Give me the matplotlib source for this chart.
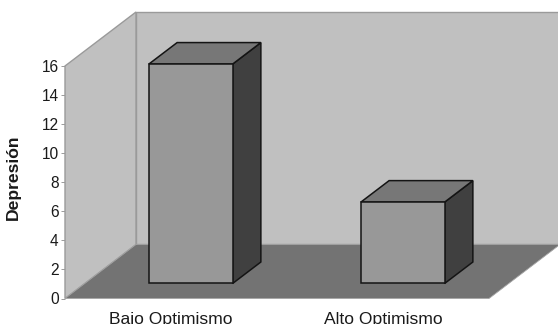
import matplotlib
matplotlib.use('Agg')
import matplotlib.pyplot as plt
from matplotlib.patches import Polygon

categories = ['Bajo Optimismo', 'Alto Optimismo']
values = [15.1, 5.6]
y_ticks = [0, 2, 4, 6, 8, 10, 12, 14, 16]
y_label = 'Depresión'

W, H = 558, 324
# depth vector of the box, in data units
DEPTH_X = 71 / 212
DEPTH_Y = 54 / 14.53
BAR_W = 0.395
BAR_D0, BAR_D1 = 0.278, 0.676

plt.rcParams['font.family'] = ['Liberation Sans', 'DejaVu Sans']

fig = plt.figure(figsize=(W / 100, H / 100), dpi=100)
ax = fig.add_axes([65 / W, 1 - 298.5 / H, 424 / W, 232.5 / H])
ax.set_xlim(0, 2)
ax.set_ylim(0, 16)
ax.patch.set_visible(False)
for s in ax.spines.values():
    s.set_visible(False)


def pt(x, y, d):
    return (x + d * DEPTH_X, y + d * DEPTH_Y)


def face(points, fc, ec, lw, z):
    ax.add_patch(Polygon(points, closed=True, facecolor=fc, edgecolor=ec, linewidth=lw,
                         joinstyle='miter', clip_on=False, zorder=z))


# walls and floor
face([pt(0, 0, 1), pt(2, 0, 1), pt(2, 16, 1), pt(0, 16, 1)], '#c0c0c0', '#9a9a9a', 1.0, 1)
face([pt(0, 0, 0), pt(0, 0, 1), pt(0, 16, 1), pt(0, 16, 0)], '#c0c0c0', '#9a9a9a', 1.0, 2)
face([pt(0, 0, 0), pt(2, 0, 0), pt(2, 0, 1), pt(0, 0, 1)], '#737373', '#a5a5a5', 0.6, 3)

# bars
for i, v in enumerate(values):
    x0 = i + 0.5 - BAR_W / 2
    x1 = i + 0.5 + BAR_W / 2
    face([pt(x1, 0, BAR_D0), pt(x1, 0, BAR_D1), pt(x1, v, BAR_D1), pt(x1, v, BAR_D0)],
         '#404040', '#141414', 1.1, 4)
    face([pt(x0, v, BAR_D0), pt(x1, v, BAR_D0), pt(x1, v, BAR_D1), pt(x0, v, BAR_D1)],
         '#777777', '#141414', 1.1, 4)
    face([pt(x0, 0, BAR_D0), pt(x1, 0, BAR_D0), pt(x1, v, BAR_D0), pt(x0, v, BAR_D0)],
         '#989898', '#141414', 1.1, 5)

ax.set_yticks(y_ticks)
ax.set_yticklabels([str(t) for t in y_ticks], fontsize=11.2, color='#1a1a1a')
ax.tick_params(axis='y', length=3, width=0.7, color='#9a9a9a', pad=1.5)
ax.set_xticks([0.5, 1.5])
ax.set_xticklabels(categories, fontsize=12.6, color='#1a1a1a')
ax.tick_params(axis='x', length=0, pad=9.5)
ax.set_ylabel(y_label, fontsize=12.6, fontweight='bold', color='#1a1a1a')
ax.yaxis.set_label_coords(-0.104, 0.523)

fig.savefig('out.png', dpi=100, facecolor='white')
